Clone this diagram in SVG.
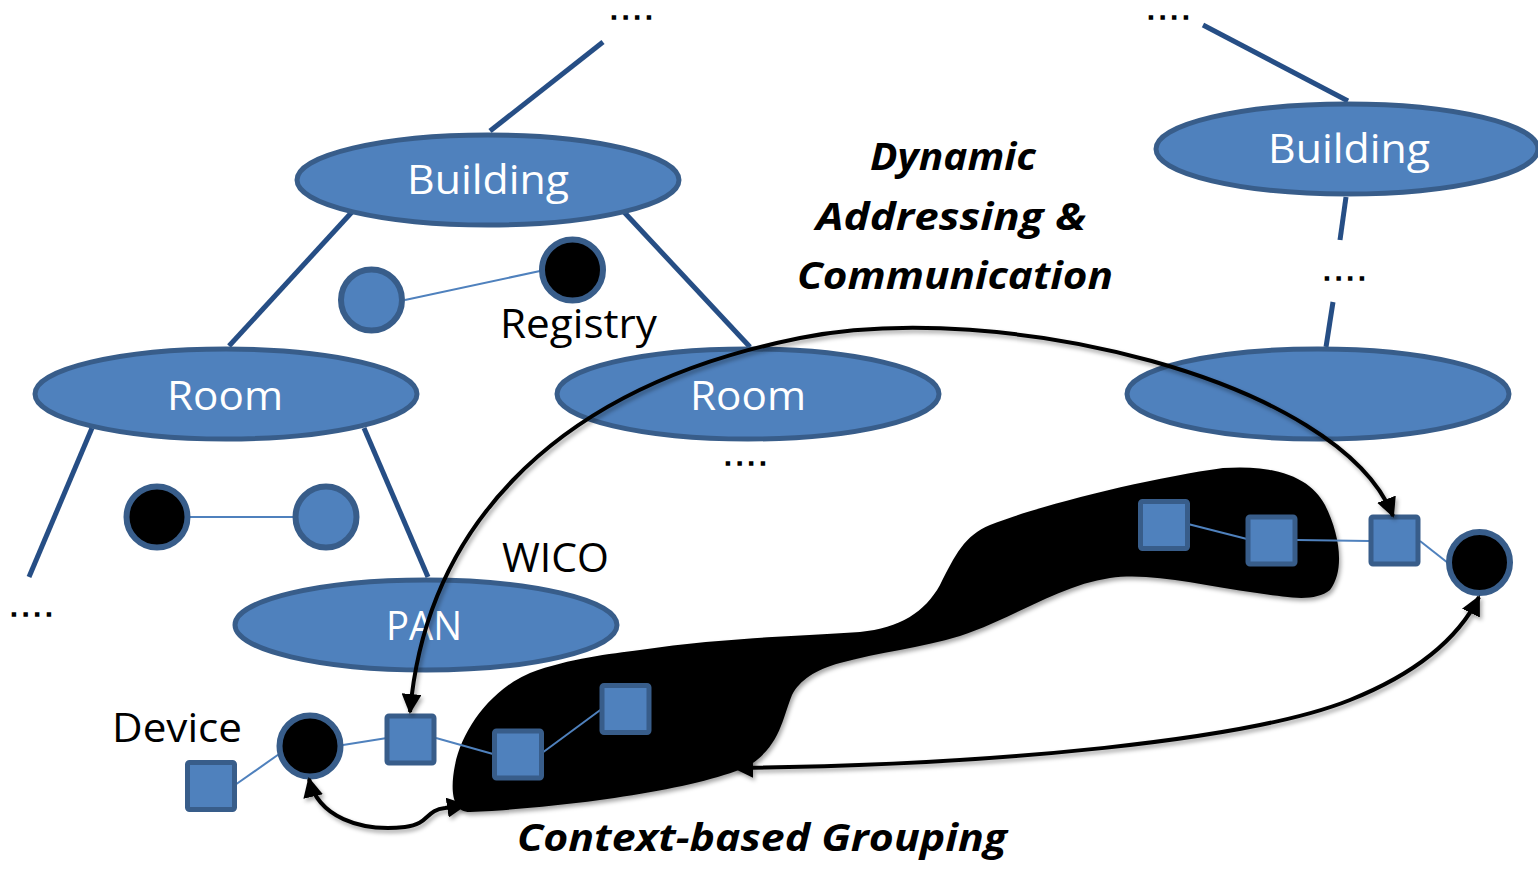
<svg xmlns="http://www.w3.org/2000/svg" width="1538" height="870" viewBox="0 0 1538 870">
  <defs>
    <style>
      .tree { stroke: #264E85; stroke-width: 5; fill: none; }
      .oval { fill: #4F81BD; stroke: #385D8A; stroke-width: 5; }
      .sq { fill: #4F81BD; stroke: #385D8A; stroke-width: 5; }
      .cb { fill: #4F81BD; stroke: #385D8A; stroke-width: 6; }
      .ck { fill: #000000; stroke: #385D8A; stroke-width: 6; }
      .link { stroke: #4F81BD; stroke-width: 2; fill: none; }
      .arrow { stroke: #000000; stroke-width: 4; fill: none; }
      .lbl { font-family: "Open Sans", "Noto Sans", sans-serif; font-size: 40px; }
      .wt { fill: #FFFFFF; text-anchor: middle; }
      .bk { fill: #000000; }
      .bi { font-family: "Open Sans", "Noto Sans", sans-serif; font-size: 38px; font-weight: bold; font-style: italic; fill: #000000; }
      .dots { font-family: "Liberation Sans", Arial, sans-serif; font-size: 21px; font-weight: bold; letter-spacing: 5.8px; fill: #000000; stroke: #000000; stroke-width: 1.4; }
    </style>
    <marker id="head" viewBox="0 0 20 20" refX="18" refY="10" markerWidth="20" markerHeight="20" markerUnits="userSpaceOnUse" orient="auto-start-reverse">
      <path d="M0,0 L20,10 L0,20 Z" fill="#000000"/>
    </marker>
    <filter id="shadow" x="-10%" y="-10%" width="130%" height="140%">
      <feDropShadow dx="2" dy="3" stdDeviation="2" flood-color="#000000" flood-opacity="0.35"/>
    </filter>
  </defs>

  <!-- hierarchy lines -->
  <g id="tree-lines">
    <line class="tree" x1="603" y1="42" x2="490" y2="131"/>
    <line class="tree" x1="352" y1="212" x2="229" y2="346"/>
    <line class="tree" x1="624" y1="212" x2="750" y2="347"/>
    <line class="tree" x1="92" y1="428" x2="29" y2="577"/>
    <line class="tree" x1="364" y1="428" x2="428" y2="577"/>
    <line class="tree" x1="1203" y1="25" x2="1348" y2="101"/>
    <line class="tree" x1="1346" y1="197" x2="1340" y2="240"/>
    <line class="tree" x1="1333" y1="302" x2="1326" y2="347"/>
  </g>

  <!-- ellipse nodes -->
  <g id="building-left">
    <ellipse class="oval" cx="488" cy="180" rx="191" ry="45"/>
    <text class="lbl wt" x="488" y="194" textLength="162" lengthAdjust="spacingAndGlyphs">Building</text>
  </g>
  <g id="building-right">
    <ellipse class="oval" cx="1347" cy="149" rx="191" ry="45"/>
    <text class="lbl wt" x="1349" y="163" textLength="162" lengthAdjust="spacingAndGlyphs">Building</text>
  </g>
  <g id="room-left">
    <ellipse class="oval" cx="226" cy="394" rx="191" ry="45"/>
    <text class="lbl wt" x="225" y="410" textLength="116" lengthAdjust="spacingAndGlyphs">Room</text>
  </g>
  <g id="room-middle">
    <ellipse class="oval" cx="748" cy="394" rx="191" ry="45"/>
    <text class="lbl wt" x="748" y="410" textLength="116" lengthAdjust="spacingAndGlyphs">Room</text>
  </g>
  <g id="room-right">
    <ellipse class="oval" cx="1318" cy="394" rx="191" ry="45"/>
  </g>
  <g id="pan">
    <ellipse class="oval" cx="426" cy="625" rx="191" ry="45"/>
    <text class="lbl wt" x="424" y="640" textLength="76" lengthAdjust="spacingAndGlyphs">PAN</text>
  </g>

  <!-- continuation marks -->
  <g id="ellipsis-marks">
    <text class="dots" x="611" y="19">....</text>
    <text class="dots" x="1148" y="19">....</text>
    <text class="dots" x="1324" y="280">....</text>
    <text class="dots" x="725" y="465">....</text>
    <text class="dots" x="11" y="616">....</text>
  </g>

  <!-- context group region -->
  <g id="context-group">
    <path filter="url(#shadow)" fill="#000000" d="M 640,650 C 720,638 800,636 860,632 C 900,628 925,612 940,585 C 955,555 965,535 990,525 C 1040,505 1150,478 1223,468 C 1280,464 1312,480 1325,505 C 1340,535 1345,570 1330,590 C 1315,602 1290,598 1257,593 C 1200,585 1150,572 1110,578 C 1060,585 1010,620 960,636 C 920,648 880,652 840,663 C 815,670 800,680 792,695 C 782,720 780,745 750,765 C 700,790 560,808 470,812 C 452,812 450,790 455,765 C 462,730 490,690 530,673 C 570,658 610,654 640,650 Z"/>
  </g>

  <!-- thin device links -->
  <g id="links">
    <line class="link" x1="405" y1="300" x2="540" y2="271"/>
    <line class="link" x1="189" y1="517" x2="294" y2="517"/>
    <line class="link" x1="235" y1="785" x2="282" y2="752"/>
    <line class="link" x1="343" y1="745" x2="387" y2="738"/>
    <line class="link" x1="436" y1="738" x2="493" y2="754"/>
    <line class="link" x1="542" y1="753" x2="603" y2="708"/>
    <line class="link" x1="1188" y1="524" x2="1247" y2="539"/>
    <line class="link" x1="1297" y1="540" x2="1369" y2="541"/>
    <line class="link" x1="1420" y1="541" x2="1448" y2="563"/>
  </g>

  <!-- circle nodes -->
  <g id="registry-peer"><circle class="cb" cx="371.5" cy="300" r="30.5"/></g>
  <g id="registry">
    <circle class="ck" cx="572.5" cy="270" r="30.5"/>
    <text class="lbl bk" x="500" y="338" textLength="157" lengthAdjust="spacingAndGlyphs">Registry</text>
  </g>
  <g id="room-device-a"><circle class="ck" cx="157" cy="517" r="30.5"/></g>
  <g id="room-device-b"><circle class="cb" cx="326" cy="517" r="30.5"/></g>
  <g id="device">
    <circle class="ck" cx="310" cy="746" r="30.5"/>
    <text class="lbl bk" x="112" y="742" textLength="130" lengthAdjust="spacingAndGlyphs">Device</text>
  </g>
  <g id="remote-device"><circle class="ck" cx="1479.5" cy="562.5" r="30.5"/></g>

  <!-- square nodes -->
  <g id="sensor-1"><rect class="sq" x="187.5" y="762.5" width="47" height="47" rx="2"/></g>
  <g id="wico-1"><rect class="sq" x="387" y="716" width="47" height="47" rx="2"/></g>
  <g id="wico-2"><rect class="sq" x="494.5" y="731" width="47" height="47" rx="2"/></g>
  <g id="wico-3"><rect class="sq" x="602" y="685.5" width="47" height="47" rx="2"/></g>
  <g id="wico-4"><rect class="sq" x="1140.5" y="501.5" width="47" height="47" rx="2"/></g>
  <g id="wico-5"><rect class="sq" x="1248" y="517" width="47" height="47" rx="2"/></g>
  <g id="wico-6"><rect class="sq" x="1371" y="517" width="47" height="47" rx="2"/></g>

  <text id="wico-label" class="lbl bk" x="502" y="572" textLength="107" lengthAdjust="spacingAndGlyphs">WICO</text>

  <!-- arrows -->
  <g id="connectors" filter="url(#shadow)">
    <path class="arrow" marker-start="url(#head)" marker-end="url(#head)" d="M 410,712 C 425,540 540,390 800,338 C 1000,298 1340,380 1393,516"/>
    <path class="arrow" marker-start="url(#head)" marker-end="url(#head)" d="M 735,768 C 1000,765 1250,740 1350,700 C 1420,672 1460,635 1479,597"/>
    <path class="arrow" marker-start="url(#head)" marker-end="url(#head)" d="M 309,779 C 318,817 360,832 405,827 C 430,824 425,810 445,808 L 465,805"/>
  </g>

  <!-- captions -->
  <g id="captions">
    <text class="bi" x="953" y="170" text-anchor="middle" textLength="166" lengthAdjust="spacingAndGlyphs">Dynamic</text>
    <text class="bi" x="951" y="230" text-anchor="middle" textLength="270" lengthAdjust="spacingAndGlyphs">Addressing &amp;</text>
    <text class="bi" x="955" y="289" text-anchor="middle" textLength="316" lengthAdjust="spacingAndGlyphs">Communication</text>
    <text class="bi" x="517" y="851" textLength="490" lengthAdjust="spacingAndGlyphs">Context-based Grouping</text>
  </g>
</svg>
